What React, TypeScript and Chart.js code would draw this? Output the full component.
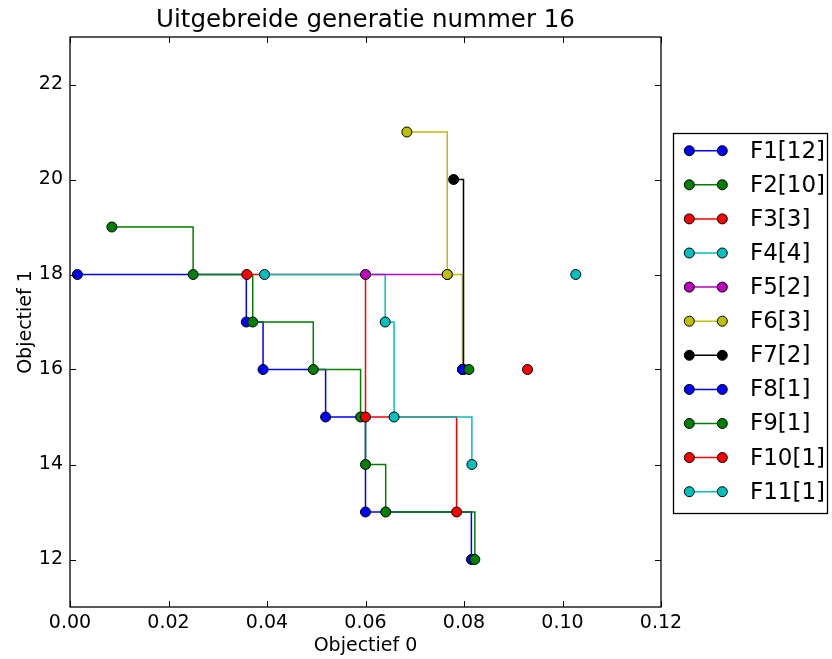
import React, { useEffect, useRef } from 'react';
import { Chart, registerables } from 'chart.js';

Chart.register(...registerables);

// Pareto fronts of generation 16: objective 0 (x) and objective 1 (y) per point
const frontLabels = ['F1[12]', 'F2[10]', 'F3[3]', 'F4[4]', 'F5[2]', 'F6[3]', 'F7[2]', 'F8[1]', 'F9[1]', 'F10[1]', 'F11[1]'];

const f1X = [0.0015, 0.0358, 0.0392, 0.0519, 0.06, 0.0815];
const f1Y = [18, 17, 16, 15, 13, 12];
const f2X = [0.0085, 0.025, 0.0371, 0.0494, 0.059, 0.06, 0.0641, 0.0822];
const f2Y = [19, 18, 17, 16, 15, 14, 13, 12];
const f3X = [0.0359, 0.06, 0.0785];
const f3Y = [18, 15, 13];
const f4X = [0.0395, 0.064, 0.0658, 0.0816];
const f4Y = [18, 17, 15, 14];
const f5X = [0.06, 0.0766];
const f5Y = [18, 18];
const f6X = [0.0684, 0.0766, 0.0797];
const f6Y = [21, 18, 16];
const f7X = [0.0779, 0.0799];
const f7Y = [20, 16];
const f8X = [0.0797];
const f8Y = [16];
const f9X = [0.081];
const f9Y = [16];
const f10X = [0.0929];
const f10Y = [16];
const f11X = [0.1027];
const f11Y = [18];

const frontXs = [f1X, f2X, f3X, f4X, f5X, f6X, f7X, f8X, f9X, f10X, f11X];
const frontYs = [f1Y, f2Y, f3Y, f4Y, f5Y, f6Y, f7Y, f8Y, f9Y, f10Y, f11Y];

const frontColors = ['#0000ff', '#008000', '#ff0000', '#00bfbf', '#bf00bf', '#bfbf00', '#000000', '#0000ff', '#008000', '#ff0000', '#00bfbf'];

const xTicks = [0, 0.02, 0.04, 0.06, 0.08, 0.1, 0.12];
const yTicks = [12, 14, 16, 18, 20, 22];

const chartTitle = 'Uitgebreide generatie nummer 16';
const xTitle = 'Objectief 0';
const yTitle = 'Objectief 1';

const FONT = '"DejaVu Sans", sans-serif';

const decorPlugin = {
  id: 'decor',
  afterDraw(chart: any) {
    const { ctx, chartArea } = chart;
    const { left, right, top, bottom } = chartArea;
    const xs = chart.scales.x;
    const ys = chart.scales.y;
    ctx.save();

    // inward tick marks on all four sides
    ctx.strokeStyle = '#000';
    ctx.lineWidth = 1;
    const tl = 6;
    xTicks.forEach((v) => {
      const px = Math.round(xs.getPixelForValue(v)) + 0.5;
      ctx.beginPath();
      ctx.moveTo(px, bottom);
      ctx.lineTo(px, bottom - tl);
      ctx.moveTo(px, top);
      ctx.lineTo(px, top + tl);
      ctx.stroke();
    });
    yTicks.forEach((v) => {
      const py = Math.round(ys.getPixelForValue(v)) + 0.5;
      ctx.beginPath();
      ctx.moveTo(left, py);
      ctx.lineTo(left + tl, py);
      ctx.moveTo(right, py);
      ctx.lineTo(right - tl, py);
      ctx.stroke();
    });

    // frame
    ctx.lineWidth = 1.3;
    ctx.strokeRect(left, top, right - left, bottom - top);

    // titles
    ctx.fillStyle = '#000';
    ctx.textAlign = 'center';
    ctx.textBaseline = 'alphabetic';
    ctx.font = `24.5px ${FONT}`;
    ctx.fillText(chartTitle, (left + right) / 2, 27);
    ctx.font = `19px ${FONT}`;
    ctx.fillText(xTitle, (left + right) / 2, 651);
    ctx.save();
    ctx.translate(31, (top + bottom) / 2);
    ctx.rotate(-Math.PI / 2);
    ctx.fillText(yTitle, 0, 0);
    ctx.restore();

    // legend
    const boxL = 673.5, boxT = 133.5, boxR = 827.5, boxB = 513.5;
    ctx.fillStyle = '#fff';
    ctx.fillRect(boxL, boxT, boxR - boxL, boxB - boxT);
    ctx.lineWidth = 1.3;
    ctx.strokeStyle = '#000';
    ctx.strokeRect(boxL, boxT, boxR - boxL, boxB - boxT);
    ctx.font = `23px ${FONT}`;
    ctx.textAlign = 'left';
    ctx.textBaseline = 'middle';
    frontLabels.forEach((label, i) => {
      const cy = 150.7 + i * 34.1;
      const x0 = 689.3, x1 = 722.3;
      ctx.strokeStyle = frontColors[i];
      ctx.lineWidth = 1.5;
      ctx.beginPath();
      ctx.moveTo(x0, cy);
      ctx.lineTo(x1, cy);
      ctx.stroke();
      [x0, x1].forEach((mx) => {
        ctx.beginPath();
        ctx.arc(mx, cy, 5, 0, Math.PI * 2);
        ctx.fillStyle = frontColors[i];
        ctx.fill();
        ctx.lineWidth = 1;
        ctx.strokeStyle = '#000';
        ctx.stroke();
      });
      ctx.fillStyle = '#000';
      ctx.fillText(label, 750, cy + 1);
    });

    ctx.restore();
  },
};

export default function App() {
  const canvasRef = useRef<HTMLCanvasElement | null>(null);

  useEffect(() => {
    const canvas = canvasRef.current;
    if (!canvas) return;

    const datasets = frontLabels.map((label, i) => ({
      label,
      data: frontXs[i].map((x, j) => ({ x, y: frontYs[i][j] })),
      showLine: true,
      stepped: 'before' as const,
      borderColor: frontColors[i],
      backgroundColor: frontColors[i],
      borderWidth: 1.5,
      pointRadius: 5,
      pointHoverRadius: 5,
      pointBorderWidth: 1,
      pointBorderColor: '#000',
      pointBackgroundColor: frontColors[i],
      fill: false,
      order: frontLabels.length - i,
    }));

    const chart = new Chart(canvas, {
      type: 'scatter',
      data: { datasets },
      options: {
        responsive: false,
        animation: false,
        devicePixelRatio: 1,
        layout: { padding: { top: 37, right: 171, left: 0, bottom: 0 } },
        plugins: {
          legend: { display: false },
          tooltip: { enabled: false },
          title: { display: false },
        },
        scales: {
          x: {
            type: 'linear',
            min: 0,
            max: 0.12,
            afterBuildTicks: (scale: any) => {
              scale.ticks = xTicks.map((value) => ({ value }));
            },
            afterFit: (scale: any) => {
              scale.height = 52;
            },
            grid: { display: false, drawTicks: false },
            border: { display: false },
            ticks: {
              color: '#000',
              padding: 5,
              maxRotation: 0,
              autoSkip: false,
              font: { family: FONT, size: 19 },
              callback: (v: any) => Number(v).toFixed(2),
            },
          },
          y: {
            type: 'linear',
            min: 11,
            max: 23,
            afterBuildTicks: (scale: any) => {
              scale.ticks = yTicks.map((value) => ({ value }));
            },
            afterFit: (scale: any) => {
              scale.width = 70;
            },
            grid: { display: false, drawTicks: false },
            border: { display: false },
            ticks: {
              color: '#000',
              padding: 7,
              autoSkip: false,
              font: { family: FONT, size: 19 },
              callback: (v: any) => String(v),
            },
          },
        },
      },
      plugins: [decorPlugin],
    });

    return () => chart.destroy();
  }, []);

  return (
    <div style={{ position: 'fixed', left: 0, top: 0, width: 832, height: 659, background: '#fff' }}>
      <canvas ref={canvasRef} width={832} height={659} style={{ display: 'block' }} />
    </div>
  );
}
